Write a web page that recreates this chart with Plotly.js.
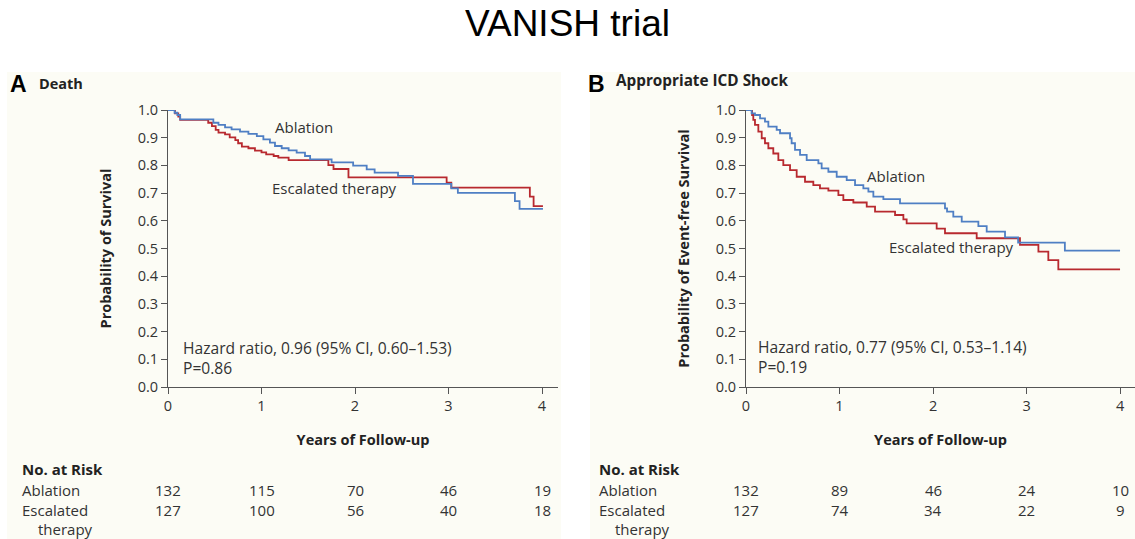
<!DOCTYPE html>
<html><head><meta charset="utf-8">
<script src="https://cdn.plot.ly/plotly-3.0.1.min.js"></script>
<style>html,body{margin:0;padding:0;background:#fff}#chart{width:1135px;height:539px}</style>
</head><body><div id="chart"></div>
<script>
// ---- Panel A: Death ----
const deathAblT = [0,0.07,0.10,0.13,0.485,0.54,0.61,0.68,0.77,0.86,0.95,1.02,1.09,1.144,1.216,1.29,1.376,1.465,1.52,1.75,1.98,2.125,2.21,2.46,2.62,3.03,3.10,3.71,3.76,4.01];
const deathAblS = [1.0,0.99,0.982,0.966,0.954,0.946,0.937,0.93,0.922,0.914,0.906,0.894,0.882,0.870,0.862,0.854,0.846,0.834,0.822,0.811,0.799,0.786,0.774,0.762,0.733,0.717,0.701,0.671,0.643,0.643];
const deathEscT = [0,0.075,0.11,0.13,0.43,0.47,0.51,0.54,0.61,0.66,0.72,0.75,0.79,0.86,0.93,1.0,1.05,1.13,1.18,1.29,1.715,1.77,1.93,2.98,3.03,3.87,3.91,4.01];
const deathEscS = [1.0,0.988,0.976,0.964,0.954,0.942,0.928,0.918,0.912,0.901,0.891,0.88,0.868,0.862,0.853,0.847,0.84,0.834,0.828,0.819,0.801,0.787,0.757,0.738,0.72,0.687,0.653,0.653];
// ---- Panel B: Appropriate ICD Shock ----
const shockAblT = [0,0.06,0.096,0.15,0.203,0.239,0.328,0.364,0.471,0.488,0.524,0.578,0.649,0.774,0.809,0.881,0.97,1.077,1.166,1.255,1.309,1.362,1.469,1.647,2.128,2.15,2.217,2.307,2.485,2.574,2.77,2.91,3.41,4.0];
const shockAblS = [1.0,0.988,0.982,0.970,0.958,0.940,0.928,0.916,0.898,0.88,0.856,0.838,0.819,0.807,0.789,0.777,0.759,0.747,0.729,0.717,0.705,0.687,0.678,0.663,0.645,0.633,0.615,0.597,0.581,0.561,0.540,0.521,0.492,0.492];
const shockEscT = [0,0.065,0.078,0.096,0.132,0.168,0.203,0.239,0.292,0.346,0.399,0.471,0.542,0.631,0.72,0.791,0.881,0.988,1.041,1.148,1.291,1.38,1.594,1.683,1.718,2.039,2.128,2.467,2.93,3.127,3.233,3.34,4.0];
const shockEscS = [1.0,0.982,0.964,0.946,0.922,0.898,0.880,0.862,0.843,0.819,0.801,0.783,0.759,0.741,0.729,0.717,0.709,0.693,0.675,0.666,0.651,0.633,0.621,0.605,0.591,0.572,0.555,0.537,0.513,0.489,0.458,0.425,0.425];
// ---- Number at risk ----
const riskYears = [0,1,2,3,4];
const deathRiskAbl = [132,115,70,46,19];
const deathRiskEsc = [127,100,56,40,18];
const shockRiskAbl = [132,89,46,24,10];
const shockRiskEsc = [127,74,34,22,9];
const yTicks = [0,0.1,0.2,0.3,0.4,0.5,0.6,0.7,0.8,0.9,1.0];

const BLUE = '#4f7fc4', RED = '#b8292f';
const FONT = 'Open Sans, Lato, sans-serif';
const W = 1135, H = 539;
const px = v => v / W, py = v => 1 - v / H;

function line(x, y, color, xa, ya, name) {
  return {x, y, type:'scatter', mode:'lines', line:{shape:'hv', color, width:1.8},
          xaxis:xa, yaxis:ya, name, showlegend:false, hoverinfo:'skip'};
}
const data = [
  line(deathEscT, deathEscS, RED, 'x', 'y', 'Escalated therapy'),
  line(deathAblT, deathAblS, BLUE, 'x', 'y', 'Ablation'),
  line(shockEscT, shockEscS, RED, 'x2', 'y2', 'Escalated therapy'),
  line(shockAblT, shockAblS, BLUE, 'x2', 'y2', 'Ablation')
];

const tickFont = {family:FONT, size:14.5, color:'#333'};
function xax(domain, range, anchor) {
  return {domain, range, anchor, tickvals:riskYears, ticks:'outside', ticklen:6, tickcolor:'#555',
    showline:true, linecolor:'#555', linewidth:1, showgrid:false, zeroline:false, tickfont:tickFont,
    title:{text:'<b>Years of Follow-up</b>', font:{family:FONT, size:14.5, color:'#222'}, standoff:20}};
}
function yax(domain, anchor, title) {
  return {domain, range:[0,1], anchor, tickvals:yTicks, tickformat:'.1f', ticks:'outside', ticklen:6, tickcolor:'#555',
    showline:true, linecolor:'#555', linewidth:1, showgrid:false, zeroline:false, tickfont:tickFont,
    title:{text:'<b>'+title+'</b>', font:{family:FONT, size:14.5, color:'#222'}, standoff:22}};
}
const yDom = [py(387), py(110)];

const ann = [];
function txt(text, x, y, opts) {
  ann.push(Object.assign({text, x, y, xref:'paper', yref:'paper', xanchor:'left', yanchor:'middle',
    showarrow:false, font:{family:FONT, size:15, color:'#333'}}, opts||{}));
}
// Panel headers
txt('<b>A</b>', px(8), py(84), {font:{family:'Liberation Sans, Arial', size:23, color:'#000'}});
txt('<b>Death</b>', px(37), py(83), {font:{family:FONT, size:14.5, color:'#222'}});
txt('<b>B</b>', px(586), py(84), {font:{family:'Liberation Sans, Arial', size:23, color:'#000'}});
txt('<b>Appropriate ICD Shock</b>', px(614), py(80), {font:{family:FONT, size:15.3, color:'#222'}});
// Curve labels (data coordinates)
function dtxt(text, x, y, xr, yr, size) {
  ann.push({text, x, y, xref:xr, yref:yr, xanchor:'left', yanchor:'middle', showarrow:false,
    font:{family:FONT, size:size||15, color:'#333'}});
}
dtxt('Ablation', 1.12, 0.939, 'x', 'y');
dtxt('Escalated therapy', 1.09, 0.718, 'x', 'y');
dtxt('Hazard ratio, 0.96 (95% CI, 0.60\u20131.53)', 0.14, 0.141, 'x', 'y', 15.6);
dtxt('P=0.86', 0.14, 0.069, 'x', 'y', 15.6);
dtxt('Ablation', 1.273, 0.762, 'x2', 'y2');
dtxt('Escalated therapy', 1.508, 0.505, 'x2', 'y2');
dtxt('Hazard ratio, 0.77 (95% CI, 0.53\u20131.14)', 0.108, 0.144, 'x2', 'y2', 15.6);
dtxt('P=0.19', 0.108, 0.072, 'x2', 'y2', 15.6);
// At-risk tables
function riskTable(left, xr, abl, esc) {
  txt('<b>No. at Risk</b>', px(left), py(469), {font:{family:FONT, size:15, color:'#222'}});
  txt('Ablation', px(left), py(490));
  txt('Escalated', px(left), py(510));
  txt('therapy', px(left+16), py(529));
  riskYears.forEach((yr, i) => {
    ann.push({text:String(abl[i]), x:yr, y:py(490), xref:xr, yref:'paper', xanchor:'center', yanchor:'middle', showarrow:false, font:{family:FONT, size:15, color:'#333'}});
    ann.push({text:String(esc[i]), x:yr, y:py(510), xref:xr, yref:'paper', xanchor:'center', yanchor:'middle', showarrow:false, font:{family:FONT, size:15, color:'#333'}});
  });
}
riskTable(20, 'x', deathRiskAbl, deathRiskEsc);
riskTable(597, 'x2', shockRiskAbl, shockRiskEsc);

const CREAM = '#fcfcf5';
const layout = {
  width:W, height:H, margin:{l:0, r:0, t:0, b:0},
  paper_bgcolor:'#ffffff', plot_bgcolor:'rgba(0,0,0,0)',
  title:{text:'VANISH trial', x:0.5, xanchor:'center', y:py(23), yanchor:'middle', yref:'container',
         font:{family:'Liberation Sans, Arial', size:37, color:'#000'}},
  xaxis: xax([px(168), px(558)], [0, 4.171], 'y'),
  yaxis: yax(yDom, 'x', 'Probability of Survival'),
  xaxis2: xax([px(746), 1], [0, 4.16], 'y2'),
  yaxis2: yax(yDom, 'x2', 'Probability of Event-free Survival'),
  shapes:[
    {type:'rect', xref:'paper', yref:'paper', x0:px(7), x1:px(561), y0:0, y1:py(72), fillcolor:CREAM, line:{width:0}, layer:'below'},
    {type:'rect', xref:'paper', yref:'paper', x0:px(590), x1:1, y0:0, y1:py(72), fillcolor:CREAM, line:{width:0}, layer:'below'}
  ],
  annotations: ann
};
Plotly.newPlot('chart', data, layout, {displayModeBar:false, staticPlot:true});
</script></body></html>
